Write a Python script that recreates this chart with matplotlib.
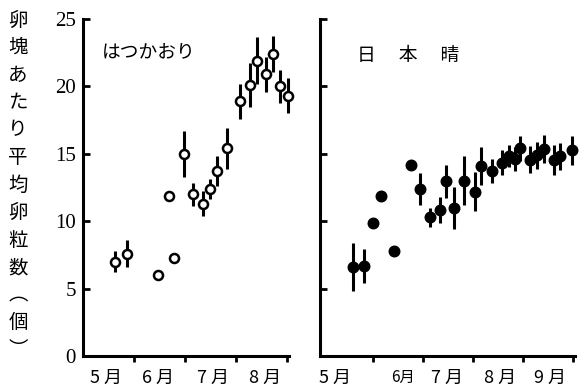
import matplotlib.pyplot as plt
from matplotlib.ticker import FixedLocator, FixedFormatter

plt.rcParams['font.family'] = ['Noto Sans CJK JP', 'DejaVu Sans']

# x positions are in months (5.0 = 1 May)
hatsu_x = [5.63, 5.86, 6.48, 6.68, 6.79, 6.98, 7.15, 7.35, 7.50, 7.62,
           7.82, 8.07, 8.28, 8.41, 8.59, 8.73, 8.87, 9.02]
hatsu_y = [7.0, 7.6, 6.0, 11.9, 7.3, 15.0, 12.0, 11.3, 12.4, 13.7,
           15.4, 18.9, 20.1, 21.9, 20.9, 22.4, 20.0, 19.3]
hatsu_err = [0.8, 1.0, 0, 0, 0, 1.7, 0.85, 0.95, 0.75, 1.1,
             1.5, 1.3, 1.6, 1.75, 1.3, 1.35, 1.25, 1.3]

nihon_x = [5.59, 5.81, 5.99, 6.16, 6.42, 6.76, 6.94, 7.13, 7.34, 7.45,
           7.62, 7.81, 8.04, 8.16, 8.37, 8.57, 8.71, 8.84, 8.94, 9.13,
           9.27, 9.41, 9.61, 9.74, 9.97]
nihon_y = [6.6, 6.7, 9.9, 11.9, 7.8, 14.2, 12.4, 10.3, 10.85, 12.95,
           11.0, 13.0, 12.2, 14.1, 13.7, 14.35, 14.85, 14.6, 15.4, 14.55,
           14.9, 15.35, 14.55, 14.8, 15.25]
nihon_err = [1.8, 1.25, 0, 0, 0, 0, 1.2, 0.7, 0.95, 1.2,
             1.55, 1.8, 1.45, 1.4, 0.9, 0.95, 0.8, 0.9, 0.95, 1.0,
             1.0, 1.05, 1.1, 1.0, 1.05]

yticks = [0, 5, 10, 15, 20, 25]

left_bounds = [6, 7, 8, 9]
left_label_pos = [5.45, 6.47, 7.55, 8.58]
left_labels = ["5 月", "6 月", "7 月", "8 月"]

right_bounds = [6, 7, 8, 9, 10]
right_label_pos = [5.24, 6.6, 7.48, 8.54, 9.54]
right_labels = ["5 月", "6月", "7 月", "8 月", "9 月"]

ylabel_chars = list("卵塊あたり平均卵粒数") + ["︵", "個", "︶"]

fig = plt.figure(figsize=(5.86, 3.91), dpi=100)
ax1 = fig.add_axes([83 / 586, 35 / 391, 206 / 586, 337 / 391])
ax2 = fig.add_axes([320 / 586, 35 / 391, 255 / 586, 337 / 391])


def style_axis(ax, bounds, label_pos, labels):
    for side in ("top", "right"):
        ax.spines[side].set_visible(False)
    for side in ("left", "bottom"):
        ax.spines[side].set_linewidth(2.2)
    ax.set_ylim(0, 25)
    ax.set_yticks(yticks)
    ax.tick_params(axis="y", direction="in", length=5, width=2, pad=5)
    ax.xaxis.set_major_locator(FixedLocator(bounds))
    ax.xaxis.set_major_formatter(FixedFormatter([""] * len(bounds)))
    ax.tick_params(axis="x", which="major", direction="out", length=4, width=2)
    ax.xaxis.set_minor_locator(FixedLocator(label_pos))
    ax.xaxis.set_minor_formatter(FixedFormatter(labels))
    ax.tick_params(axis="x", which="minor", length=0, pad=9, labelsize=13)


eb1 = ax1.errorbar(hatsu_x, hatsu_y, yerr=hatsu_err, fmt="o", color="black",
                   mfc="white", mec="black", mew=1.8, ms=6.5, elinewidth=2.2,
                   capsize=0, zorder=3)
ax1.set_xlim(5.0, 9.04)
style_axis(ax1, left_bounds, left_label_pos, left_labels)
for lab in ax1.get_yticklabels():
    lab.set_family("Liberation Serif")
    lab.set_fontsize(15)
ax1.text(5.37, 22.6, "はつかおり", fontsize=13.5, va="center", ha="left")

eb2 = ax2.errorbar(nihon_x, nihon_y, yerr=nihon_err, fmt="o", color="black",
                   ms=7.6, elinewidth=2.2, capsize=0, zorder=3)
ax2.set_xlim(4.94, 10.04)
style_axis(ax2, right_bounds, right_label_pos, right_labels)
ax2.set_yticklabels([])
six = ax2.xaxis.get_minorticklabels()[1]
six.set_fontsize(11)
six.set_style("italic")
ax2.text(5.68, 22.3, "日　 本　 晴", fontsize=13.5, va="center", ha="left")

# points at the right edge should not be cut off
for eb in (eb1, eb2):
    for artist in eb.lines[0:1] + tuple(eb.lines[2]):
        artist.set_clip_on(False)

# vertical y-axis title, one character per line
for i, ch in enumerate(ylabel_chars):
    fig.text(18 / 586, 1 - (20 + i * 27.5) / 391, ch, fontsize=14,
             ha="center", va="center")

fig.savefig("out.png", dpi=100)
